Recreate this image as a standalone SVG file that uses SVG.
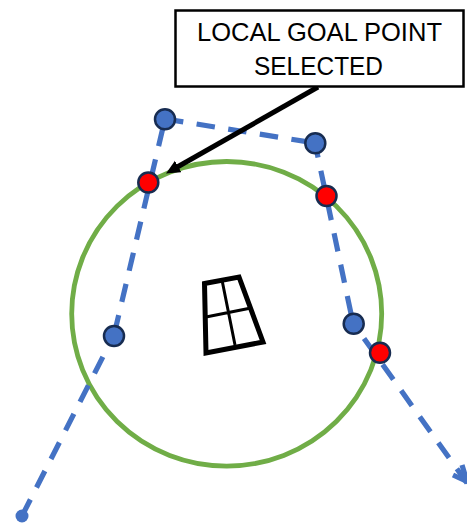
<svg xmlns="http://www.w3.org/2000/svg" width="467" height="525" viewBox="0 0 467 525">
<style>
.path{fill:none;stroke:#4472C4;stroke-width:5.200;stroke-dasharray:18.500 13.500}
.wp{fill:#4472C4;stroke:#172C51;stroke-width:2.500}
.goal{fill:#FF0000;stroke:#172C51;stroke-width:2.500}
.label{font-family:"Liberation Sans",Arial,sans-serif;font-size:25.500px;fill:#000;text-anchor:middle}
</style>
<defs>
<marker id="blackHead" markerUnits="userSpaceOnUse" markerWidth="16" markerHeight="14" refX="1" refY="6.500" orient="auto"><path d="M0 0L14 6.500L0 13Z" fill="#000"/></marker>
</defs>
<rect width="467" height="525" fill="#fff"/>
<g id="lookahead-circle"><ellipse cx="226.700" cy="313.800" rx="155" ry="152.300" fill="none" stroke="#70AD47" stroke-width="4.800"/></g>
<g id="connectors">
<path class="path" d="M22 516L114 335"/>
<path class="path" stroke-dashoffset="30" d="M114 335L165 119"/>
<path class="path" d="M165 119L315 143"/>
<path class="path" stroke-dashoffset="3.700" d="M315 143L353 323"/>
<path class="path" stroke-dashoffset="13" d="M353 323L467 483"/>
<path d="M453 475L467 481.500L462 465" fill="none" stroke="#4472C4" stroke-width="5.200"/>
<line x1="318" y1="87" x2="177.300" y2="167" stroke="#000" stroke-width="5" marker-end="url(#blackHead)"/>
</g>
<g id="start"><circle cx="22" cy="516" r="6.500" fill="#4472C4"/></g>
<g id="wp1"><circle class="wp" cx="114" cy="336" r="10"/></g>
<g id="wp2"><circle class="wp" cx="165" cy="119.300" r="10"/></g>
<g id="wp3"><circle class="wp" cx="315.300" cy="143.300" r="10"/></g>
<g id="wp4"><circle class="wp" cx="353.700" cy="323.700" r="10"/></g>
<g id="goal1"><circle class="goal" cx="148.300" cy="182.500" r="10"/></g>
<g id="goal2"><circle class="goal" cx="326.500" cy="196" r="10"/></g>
<g id="goal3"><circle class="goal" cx="380" cy="352.700" r="10"/></g>
<g id="robot" fill="none" stroke="#000">
<path d="M204.500 283.500L239 277L263 342L206 353Z" stroke-width="5"/>
<path d="M222 280L235 345M206 317L251 308" stroke-width="3"/>
</g>
<g id="callout">
<rect x="175.500" y="10.500" width="288" height="76" fill="#fff" stroke="#000" stroke-width="2.500"/>
<text class="label" x="319.500" y="40.500" textLength="245" lengthAdjust="spacingAndGlyphs">LOCAL GOAL POINT</text>
<text class="label" x="318.500" y="74.500" textLength="129" lengthAdjust="spacingAndGlyphs">SELECTED</text>
</g>
</svg>
